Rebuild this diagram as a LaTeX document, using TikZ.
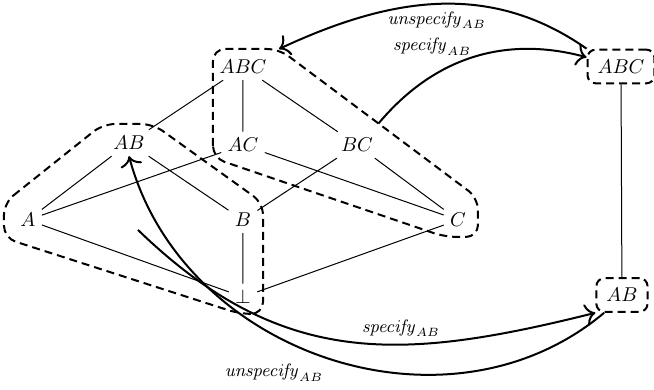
\documentclass[tikz,border=0pt]{standalone}
\usetikzlibrary{arrows.meta,calc}
\begin{document}
\begin{tikzpicture}
	\tikzstyle{lattice node}=[inner sep=3pt]
	\tikzstyle{order edge}=[line width=0.5pt]
	\tikzset{
		region/.style={dash pattern=on 4pt off 2.5pt,line width=1pt,rounded corners=6pt},
		state node/.style={draw,dash pattern=on 4pt off 2.5pt,line width=1pt,rounded corners=4pt,inner sep=5pt},
		move/.style={line width=1pt,-{Computer Modern Rightarrow[length=5pt,width=11pt]}},
		move label/.style={font=\small}
	}
	\useasboundingbox (0,0) rectangle (11.493,6.853);
	% the lattice
	\node(abc)[lattice node] at (4.270,5.676) {$ABC$};
	\node(ab)[lattice node] at (2.267,4.341) {$AB$};
	\node(ac)[lattice node] at (4.270,4.306) {$AC$};
	\node(bc)[lattice node] at (6.274,4.306) {$BC$};
	\node(a)[lattice node] at (0.492,2.987) {$A$};
	\node(b)[lattice node] at (4.270,2.987) {$B$};
	\node(c)[lattice node] at (8.048,2.987) {$C$};
	\node(bot)[lattice node] at (4.270,1.634) {$\bot$};
	\draw[order edge] (abc) -- (ab) (abc) -- (ac) (abc) -- (bc);
	\draw[order edge] (ab) -- (a) (ab) -- (b) (ac) -- (a) (ac) -- (c) (bc) -- (b) (bc) -- (c);
	\draw[order edge] (a) -- (bot) (b) -- (bot) (c) -- (bot);
	% regions
	\draw[region] (3.743,4.077) -- (3.743,5.992) -- (4.903,5.992) coordinate (upne)
		-- (8.400,3.374) coordinate (upe) -- (8.400,2.689) -- (7.820,2.689) -- cycle;
	\draw[region] (0.070,3.286) -- (1.810,4.674) -- (2.689,4.674) -- (4.622,3.286)
		-- (4.622,1.336) -- (4.218,1.336) -- (0.070,2.671) -- cycle;
	\coordinate (upmid) at ($(upne)!0.5!(upe)$);
	\coordinate (downin) at (2.425,2.812);
	% the two states
	\node(abcr)[state node] at (10.913,5.685) {$ABC$};
	\node(abr)[state node] at (10.930,1.669) {$AB$};
	\draw[order edge] (abcr) -- (abr);
	% moves
	\draw[move] (abcr.north west) to[out=145,in=25]
		node[move label,below]{$\mathit{unspecify}_{AB}$} (upne);
	\draw[move] (upmid) to[out=50,in=165]
		node[move label,pos=0.3,above=6.5pt]{$\mathit{specify}_{AB}$} (abcr.165);
	\draw[move] (downin) to[out=-44,in=194,looseness=1.1]
		node[move label,pos=0.62,above]{$\mathit{specify}_{AB}$} (abr.south west);
	\draw[move] (abr.225) to[out=-140,in=-75,looseness=1.05]
		node[move label,pos=0.6,below=11pt]{$\mathit{unspecify}_{AB}$} (ab.south);
\end{tikzpicture}
\end{document}
